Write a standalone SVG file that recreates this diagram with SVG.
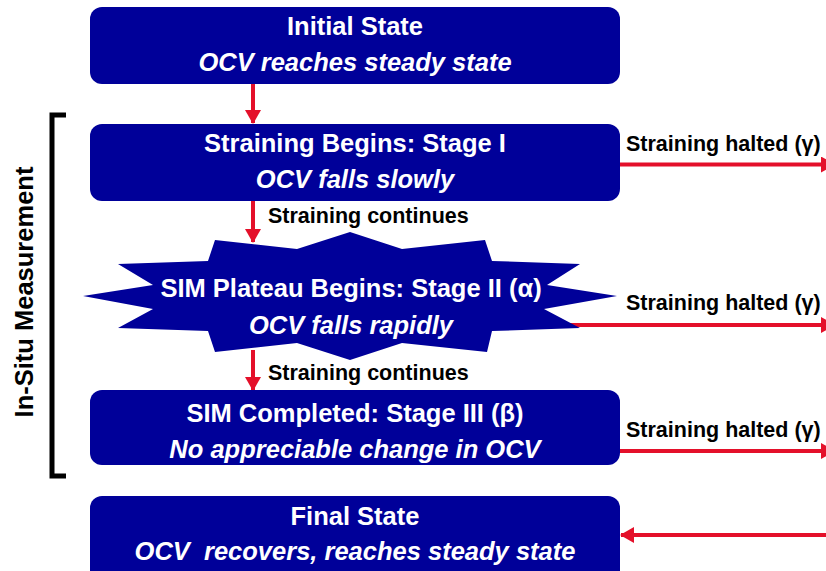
<svg xmlns="http://www.w3.org/2000/svg" width="826" height="571" viewBox="0 0 826 571">
<style>
.box{fill:#000099;}
.t1{font-family:"Liberation Sans",Arial,sans-serif;font-weight:bold;font-size:25.5px;fill:#ffffff;text-anchor:middle;}
.t2{font-family:"Liberation Sans",Arial,sans-serif;font-weight:bold;font-style:italic;font-size:25.5px;fill:#ffffff;text-anchor:middle;}
.lbl{font-family:"Liberation Sans",Arial,sans-serif;font-weight:bold;font-size:21.5px;fill:#000000;}
.arr{stroke:#E4102A;stroke-width:4;fill:none;}
</style>
<defs>
<marker id="ah" markerUnits="userSpaceOnUse" markerWidth="14" markerHeight="16" refX="13" refY="8" orient="auto">
<path d="M0,0 L14,8 L0,16 Z" fill="#E4102A"/>
</marker>
</defs>
<rect width="826" height="571" fill="#ffffff"/>
<g id="connectors">
<line class="arr" x1="253" y1="84" x2="253" y2="123" marker-end="url(#ah)"/>
<line class="arr" x1="253" y1="201" x2="253" y2="242" marker-end="url(#ah)"/>
<line class="arr" x1="253" y1="350" x2="253" y2="390" marker-end="url(#ah)"/>
<line class="arr" x1="619" y1="164.5" x2="834" y2="164.5" marker-end="url(#ah)"/>
<line class="arr" x1="565" y1="325" x2="834" y2="325" marker-end="url(#ah)"/>
<line class="arr" x1="619" y1="451" x2="834" y2="451" marker-end="url(#ah)"/>
<line class="arr" x1="830" y1="535" x2="621" y2="535" marker-end="url(#ah)"/>
<text class="lbl" x="268" y="223">Straining continues</text>
<text class="lbl" x="268" y="380">Straining continues</text>
<text class="lbl" x="626" y="151">Straining halted (γ)</text>
<text class="lbl" x="626" y="310">Straining halted (γ)</text>
<text class="lbl" x="626" y="437">Straining halted (γ)</text>
</g>
<g id="initial">
<rect class="box" x="90" y="7" width="530" height="77" rx="12"/>
<text class="t1" x="355" y="35">Initial State</text>
<text class="t2" x="355" y="71">OCV reaches steady state</text>
</g>
<g id="stage1">
<rect class="box" x="90" y="124" width="530" height="77" rx="12"/>
<text class="t1" x="355" y="152">Straining Begins: Stage I</text>
<text class="t2" x="355" y="188">OCV falls slowly</text>
</g>
<g id="stage2">
<polygon class="box" points="215,240 297,249 350,232 402,249 485,240 492,261 580,264 547,285 617,296 544,309 580,328 492,331 487,352 402,343 350,360 297,343 215,352 208,331 118,328 153,309 83,296 153,285 118,264 208,261"/>
<text class="t1" x="351" y="297">SIM Plateau Begins: Stage II (α)</text>
<text class="t2" x="351" y="334">OCV falls rapidly</text>
</g>
<g id="stage3">
<rect class="box" x="90" y="390" width="530" height="75" rx="12"/>
<text class="t1" x="355" y="422">SIM Completed: Stage III (β)</text>
<text class="t2" x="355" y="458">No appreciable change in OCV</text>
</g>
<g id="final">
<rect class="box" x="90" y="496" width="530" height="95" rx="12"/>
<text class="t1" x="355" y="525">Final State</text>
<text class="t2" x="355" y="560" xml:space="preserve">OCV  recovers, reaches steady state</text>
</g>
<g id="bracket">
<path d="M66,115 L52,115 L52,476 L66,476" fill="none" stroke="#000000" stroke-width="5"/>
<text class="lbl" style="font-size:25.5px;text-anchor:middle;" transform="translate(33,292) rotate(-90)">In-Situ Measurement</text>
</g>
</svg>
